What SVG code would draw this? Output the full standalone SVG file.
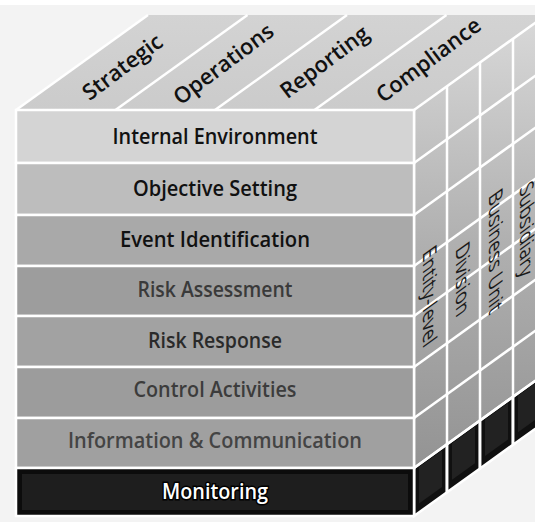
<svg xmlns="http://www.w3.org/2000/svg" width="535" height="522" viewBox="0 0 535 522">
  <defs>
    <linearGradient id="sideGrad" x1="0" y1="15" x2="0" y2="470" gradientUnits="userSpaceOnUse">
      <stop offset="0" stop-color="#d9d9d9"/>
      <stop offset="0.5" stop-color="#b0b0b0"/>
      <stop offset="1" stop-color="#939393"/>
    </linearGradient>
    <linearGradient id="topGrad" x1="0" y1="15" x2="0" y2="110" gradientUnits="userSpaceOnUse">
      <stop offset="0" stop-color="#d3d3d3"/>
      <stop offset="1" stop-color="#cbcbcb"/>
    </linearGradient>
    <style>
      .row { stroke: #ffffff; stroke-width: 2.5; }
      .ftxt { font-family: "Open Sans", "Liberation Sans", sans-serif; font-weight: 600; font-size: 21px; text-anchor: middle; }
      .ttxt { font-family: "Open Sans", "Liberation Sans", sans-serif; font-weight: 600; font-size: 22px; text-anchor: middle; fill: #111; }
      .stxt { font-family: "Open Sans", "Liberation Sans", sans-serif; font-weight: 500; font-size: 19px; text-anchor: middle; fill: #1a1a1a; }
      .wline { stroke: #ffffff; stroke-width: 2.5; fill: none; }
      .blk { fill: #101010; stroke: #ffffff; stroke-width: 2.5; }
      .blkin { fill: #222222; }
    </style>
  </defs>

  <rect x="0" y="0" width="535" height="522" fill="#f3f3f3"/>
  <rect x="0" y="0" width="535" height="5" fill="#ffffff"/>

  <!-- Top face -->
  <g id="top-face">
    <polygon points="16,110 414,110 546,15 148,15" fill="url(#topGrad)"/>
    <line class="wline" x1="115.5" y1="110" x2="247.5" y2="15"/>
    <line class="wline" x1="215" y1="110" x2="347" y2="15"/>
    <line class="wline" x1="314.5" y1="110" x2="446.5" y2="15"/>
    <line class="wline" x1="16" y1="110" x2="148" y2="15" stroke-width="1"/>
  </g>
  <g id="obj-strategic"><text class="ttxt" transform="translate(127,73) rotate(-37)">Strategic</text></g>
  <g id="obj-operations"><text class="ttxt" transform="translate(228,70) rotate(-37)">Operations</text></g>
  <g id="obj-reporting"><text class="ttxt" transform="translate(329,68) rotate(-37)">Reporting</text></g>
  <g id="obj-compliance"><text class="ttxt" transform="translate(433,66) rotate(-37)">Compliance</text></g>

  <!-- Side face -->
  <g id="side-face">
    <polygon points="414,110 546,15 546,421 414,516" fill="url(#sideGrad)"/>
    <polygon class="blk" points="414,468 447,444.25 447,492.25 414,516"/>
    <polygon class="blk" points="447,444.25 480,420.5 480,468.5 447,492.25"/>
    <polygon class="blk" points="480,420.5 513,396.75 513,444.75 480,468.5"/>
    <polygon class="blk" points="513,396.75 546,373 546,421 513,444.75"/>
    <polygon class="blkin" points="419,467 442,450.5 442,487 419,503.5"/>
    <polygon class="blkin" points="452,443.25 475,426.75 475,463.25 452,479.75"/>
    <polygon class="blkin" points="485,419.5 508,403 508,439.5 485,456"/>
    <polygon class="blkin" points="518,395.75 541,379.25 541,415.75 518,432.25"/>
    <line class="wline" x1="414" y1="110" x2="546" y2="15"/>
    <line class="wline" x1="414" y1="163" x2="546" y2="68"/>
    <line class="wline" x1="414" y1="215" x2="546" y2="120"/>
    <line class="wline" x1="414" y1="266" x2="546" y2="171"/>
    <line class="wline" x1="414" y1="316" x2="546" y2="221"/>
    <line class="wline" x1="414" y1="367" x2="546" y2="272"/>
    <line class="wline" x1="414" y1="418" x2="546" y2="323"/>
    <line class="wline" x1="414" y1="468" x2="546" y2="373"/>
    <line class="wline" x1="414" y1="110" x2="414" y2="516"/>
    <line class="wline" x1="447" y1="86.25" x2="447" y2="492.25"/>
    <line class="wline" x1="480" y1="62.5" x2="480" y2="468.5"/>
    <line class="wline" x1="513" y1="38.75" x2="513" y2="444.75"/>
  </g>
  <g id="unit-entity"><text class="stxt" transform="translate(430,296) matrix(1,-0.72,0,1,0,0) rotate(90)" y="7">Entity-level</text></g>
  <g id="unit-division"><text class="stxt" transform="translate(463,279) matrix(1,-0.72,0,1,0,0) rotate(90)" y="7">Division</text></g>
  <g id="unit-business"><text class="stxt" transform="translate(496,251) matrix(1,-0.72,0,1,0,0) rotate(90)" y="7">Business Unit</text></g>
  <g id="unit-subsidiary"><text class="stxt" transform="translate(527,229) matrix(1,-0.72,0,1,0,0) rotate(90)" y="7">Subsidiary</text></g>

  <!-- Front face rows -->
  <g id="row-internal-environment">
    <rect class="row" x="16" y="110" width="398" height="53" fill="#d4d4d4"/>
    <text class="ftxt" x="215" y="144" fill="#111" textLength="205" lengthAdjust="spacingAndGlyphs">Internal Environment</text>
  </g>
  <g id="row-objective-setting">
    <rect class="row" x="16" y="163" width="398" height="52" fill="#bdbdbd"/>
    <text class="ftxt" x="215" y="196" fill="#111" textLength="164" lengthAdjust="spacingAndGlyphs">Objective Setting</text>
  </g>
  <g id="row-event-identification">
    <rect class="row" x="16" y="215" width="398" height="51" fill="#a9a9a9"/>
    <text class="ftxt" x="215" y="247" fill="#111" textLength="190" lengthAdjust="spacingAndGlyphs">Event Identification</text>
  </g>
  <g id="row-risk-assessment">
    <rect class="row" x="16" y="266" width="398" height="50" fill="#9d9d9d"/>
    <text class="ftxt" x="215" y="297" fill="#3a3a3a" textLength="155" lengthAdjust="spacingAndGlyphs">Risk Assessment</text>
  </g>
  <g id="row-risk-response">
    <rect class="row" x="16" y="316" width="398" height="51" fill="#a2a2a2"/>
    <text class="ftxt" x="215" y="348" fill="#2a2a2a" textLength="134" lengthAdjust="spacingAndGlyphs">Risk Response</text>
  </g>
  <g id="row-control-activities">
    <rect class="row" x="16" y="367" width="398" height="51" fill="#9c9c9c"/>
    <text class="ftxt" x="215" y="397" fill="#3c3c3c" textLength="163" lengthAdjust="spacingAndGlyphs">Control Activities</text>
  </g>
  <g id="row-information-communication">
    <rect class="row" x="16" y="418" width="398" height="50" fill="#a0a0a0"/>
    <text class="ftxt" x="215" y="448" fill="#444" textLength="294" lengthAdjust="spacingAndGlyphs">Information &amp; Communication</text>
  </g>
  <g id="row-monitoring">
    <rect class="row" x="16" y="468" width="398" height="48" fill="#0c0c0c"/>
    <rect x="22" y="474" width="386" height="36" fill="#1e1e1e"/>
    <text class="ftxt" x="215" y="499" fill="#ffffff" stroke="#000" stroke-width="3" paint-order="stroke" textLength="106" lengthAdjust="spacingAndGlyphs">Monitoring</text>
  </g>
</svg>
